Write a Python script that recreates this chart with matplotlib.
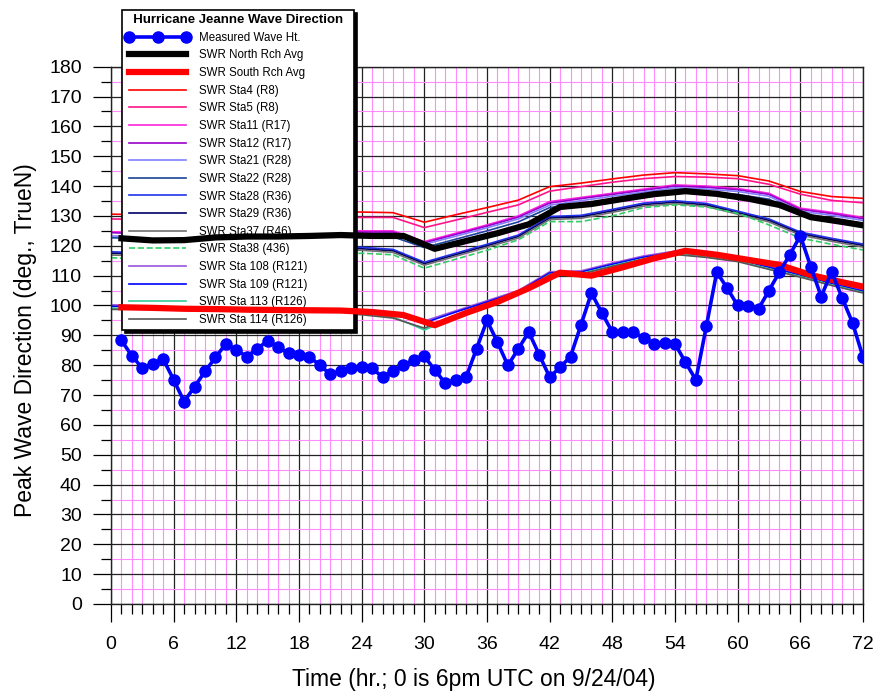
import matplotlib
matplotlib.use("Agg")
import matplotlib.pyplot as plt
from matplotlib.ticker import MultipleLocator
import numpy as np

plt.rcParams['font.family'] = ['Liberation Sans', 'DejaVu Sans']

# measured peak wave direction, hourly 1..72
meas_hr = list(range(1, 73))
meas_dir = [88.3, 83.1, 79.0, 80.5, 82.0, 75.1, 67.8, 72.8, 77.9, 82.6,
            87.2, 85.1, 82.9, 85.5, 88.2, 86.0, 84.0, 83.5, 82.9, 79.9,
            77.0, 77.9, 79.0, 79.3, 79.0, 76.0, 78.0, 80.0, 81.8, 83.0,
            78.4, 74.0, 75.1, 76.0, 85.5, 95.0, 87.7, 79.9, 85.5, 91.1,
            83.5, 76.0, 79.3, 82.9, 93.5, 104.2, 97.5, 91.1, 91.1, 91.1,
            89.1, 87.2, 87.3, 87.2, 81.0, 75.1, 93.0, 111.2, 105.8, 100.0,
            99.7, 98.9, 105.0, 111.2, 117.0, 123.4, 113.0, 103.0, 111.3, 102.6,
            94.2, 82.8]

# SWAN station output every 3 hr
sta_hr = list(range(0, 73, 3))
sta4 = [130.6, 130.4, 130.4, 130.8, 131.0, 131.0, 131.2, 131.4, 131.3, 131.1, 127.9, 130.4, 132.8,
        135.3, 139.8, 141.0, 142.4, 143.7, 144.5, 144.1, 143.5, 141.7, 138.2, 136.5, 135.9]
sta5 = [129.0, 128.8, 128.8, 129.1, 129.3, 129.3, 129.4, 129.5, 129.5, 129.5, 126.1, 128.6, 131.2,
        133.7, 138.3, 139.8, 141.3, 142.5, 143.2, 143.0, 142.5, 140.6, 137.3, 135.2, 134.4]
sta11 = [124.7, 124.4, 124.4, 124.7, 124.9, 124.9, 125.0, 125.1, 125.0, 125.0, 121.4, 124.2, 127.0,
         130.0, 134.8, 136.2, 137.6, 139.0, 140.4, 140.0, 139.2, 137.6, 132.6, 131.2, 129.5]
sta12 = [124.4, 124.0, 124.0, 124.3, 124.5, 124.5, 124.6, 124.7, 124.6, 124.6, 121.0, 123.8, 126.6,
         129.6, 134.3, 135.8, 137.2, 138.6, 140.0, 139.6, 138.8, 137.2, 132.2, 130.8, 129.1]
sta21 = [123.3, 123.0, 123.0, 123.3, 123.6, 123.6, 123.8, 123.9, 124.0, 124.0, 120.5, 123.2, 126.0,
         129.0, 133.6, 135.1, 136.6, 138.0, 139.4, 139.0, 138.2, 136.6, 131.6, 130.2, 128.5]
sta22 = [122.7, 122.4, 122.4, 122.7, 122.9, 122.9, 123.0, 123.1, 123.0, 123.0, 119.4, 122.2, 125.0,
         128.0, 132.8, 134.2, 135.6, 137.0, 138.4, 138.0, 137.2, 135.6, 130.6, 129.2, 127.5]
sta28 = [118.0, 117.6, 117.6, 118.0, 118.4, 118.6, 118.9, 119.2, 119.5, 118.8, 114.5, 117.5, 120.5,
         123.6, 129.8, 130.2, 132.2, 134.3, 135.1, 134.2, 131.6, 129.0, 124.6, 122.5, 120.6]
sta29 = [117.5, 117.2, 117.2, 117.6, 118.0, 118.2, 118.5, 118.8, 119.0, 118.3, 114.0, 117.0, 120.0,
         123.1, 129.3, 129.7, 131.7, 133.8, 134.6, 133.7, 131.1, 128.5, 124.1, 122.0, 120.1]
sta37 = [116.9, 116.7, 116.7, 117.1, 117.5, 117.7, 118.0, 118.3, 118.5, 117.8, 113.5, 116.5, 119.5,
         122.6, 128.8, 129.2, 131.2, 133.3, 134.1, 133.2, 130.6, 128.0, 123.6, 121.5, 119.6]
sta38 = [116.0, 115.6, 115.6, 116.0, 116.4, 116.6, 116.9, 117.2, 117.5, 117.0, 112.5, 115.5, 118.5,
         122.0, 128.1, 128.1, 130.0, 132.8, 133.7, 133.0, 130.9, 127.0, 122.6, 120.5, 118.6]
sta108 = [100.2, 100.0, 99.9, 99.8, 99.6, 99.4, 99.2, 98.8, 98.4, 97.4, 94.8, 98.2, 101.6,
          105.0, 111.3, 111.6, 114.2, 116.6, 118.2, 117.2, 115.8, 113.2, 110.6, 107.8, 105.2]
sta109 = [99.7, 99.6, 99.5, 99.4, 99.2, 99.0, 98.8, 98.4, 98.0, 97.0, 94.2, 97.8, 101.2,
          104.6, 110.9, 111.2, 113.8, 116.2, 117.8, 116.8, 115.4, 112.8, 110.2, 107.4, 104.8]
sta113 = [99.1, 99.0, 98.9, 98.8, 98.6, 98.4, 98.2, 97.8, 97.3, 96.2, 91.8, 96.2, 100.2,
          104.0, 110.4, 110.7, 113.3, 115.7, 117.3, 116.3, 114.9, 112.3, 109.7, 106.9, 104.4]
sta114 = [98.7, 98.6, 98.5, 98.4, 98.2, 98.0, 97.8, 97.4, 96.9, 95.8, 92.4, 96.6, 100.6,
          104.2, 110.2, 110.5, 113.1, 115.5, 117.1, 116.1, 114.7, 112.1, 109.5, 106.7, 104.2]

# reach averages (offset one hour)
avg_hr = list(range(1, 74, 3))
north_avg = [122.5, 121.8, 121.9, 122.8, 123.1, 123.1, 123.3, 123.6, 123.3, 123.3, 119.0, 121.6, 124.2,
             127.2, 133.0, 134.0, 135.7, 137.3, 138.3, 137.4, 135.8, 133.7, 129.6, 128.0, 126.3]
south_avg = [99.4, 99.2, 98.9, 98.8, 98.6, 98.5, 98.4, 98.3, 97.8, 96.8, 93.4, 97.5, 101.2,
             105.8, 111.0, 110.0, 112.8, 115.8, 118.3, 117.0, 115.3, 113.6, 110.2, 107.8, 105.6]

stations = [
    ("SWR Sta4 (R8)", sta4, "#ff0000", "-"),
    ("SWR Sta5 (R8)", sta5, "#ff1488", "-"),
    ("SWR Sta11 (R17)", sta11, "#ff22dd", "-"),
    ("SWR Sta12 (R17)", sta12, "#9900cc", "-"),
    ("SWR Sta21 (R28)", sta21, "#8080ff", "-"),
    ("SWR Sta22 (R28)", sta22, "#1a4499", "-"),
    ("SWR Sta28 (R36)", sta28, "#2233ee", "-"),
    ("SWR Sta29 (R36)", sta29, "#000066", "-"),
    ("SWR Sta37 (R46)", sta37, "#707070", "-"),
    ("SWR Sta38 (436)", sta38, "#33cc66", "--"),
    ("SWR Sta 108 (R121)", sta108, "#9955dd", "-"),
    ("SWR Sta 109 (R121)", sta109, "#0000ff", "-"),
    ("SWR Sta 113 (R126)", sta113, "#33cc99", "-"),
    ("SWR Sta 114 (R126)", sta114, "#555555", "-"),
]

fig = plt.figure(figsize=(8.77, 6.94), dpi=100)
ax = fig.add_axes([0.1266, 0.1297, 0.8574, 0.7742])

ax.plot(meas_hr, meas_dir, color="#0000ff", lw=2.6, marker="o", ms=8,
        label="Measured Wave Ht.", zorder=6)
ax.plot(avg_hr, north_avg, color="black", lw=4.5, label="SWR North Rch Avg", zorder=5)
ax.plot(avg_hr, south_avg, color="#ff0000", lw=4.5, label="SWR South Rch Avg", zorder=5)
for name, vals, col, ls in stations:
    ax.plot(sta_hr, vals, color=col, ls=ls, lw=1.2, label=name, zorder=2)

ax.set_xlim(0, 72)
ax.set_ylim(0, 180)
ax.xaxis.set_major_locator(MultipleLocator(6))
ax.xaxis.set_minor_locator(MultipleLocator(1))
ax.yaxis.set_major_locator(MultipleLocator(10))
ax.yaxis.set_minor_locator(MultipleLocator(5))
ax.set_axisbelow(True)
ax.grid(which="minor", color="#ff8cff", lw=0.8)
ax.grid(which="major", color="#222222", lw=0.9)
ax.tick_params(which="major", direction="out", length=13, width=0.9, labelsize=14)
ax.tick_params(axis="x", which="major", pad=10)
ax.tick_params(axis="y", which="major", pad=8)
ax.tick_params(which="minor", direction="out", length=7, width=0.9)
for s in ax.spines.values():
    s.set_linewidth(1.0)
    s.set_color("#222222")

ax.set_xlabel("Time (hr.; 0 is 6pm UTC on 9/24/04)", fontsize=16.5)
ax.set_ylabel("Peak Wave Direction (deg., TrueN)", fontsize=16.5)
ax.xaxis.set_label_coords(0.482, -0.12)
ax.yaxis.set_label_coords(-0.099, 0.491)

leg = ax.legend(loc="upper left", bbox_to_anchor=(0.0146, 1.1055), borderaxespad=0,
                title="  Hurricane Jeanne Wave Direction  ", fontsize=8.3, numpoints=3,
                handlelength=5.5, handletextpad=0.8, labelspacing=0.49, borderpad=0.35,
                alignment="left", fancybox=False, framealpha=1, edgecolor="black",
                shadow={"color": "black", "alpha": 1})
leg.get_title().set_fontweight("bold")
leg.get_title().set_fontsize(9.5)
leg.get_frame().set_linewidth(1.2)
leg.set_zorder(3)

fig.savefig("out.png", dpi=100)
